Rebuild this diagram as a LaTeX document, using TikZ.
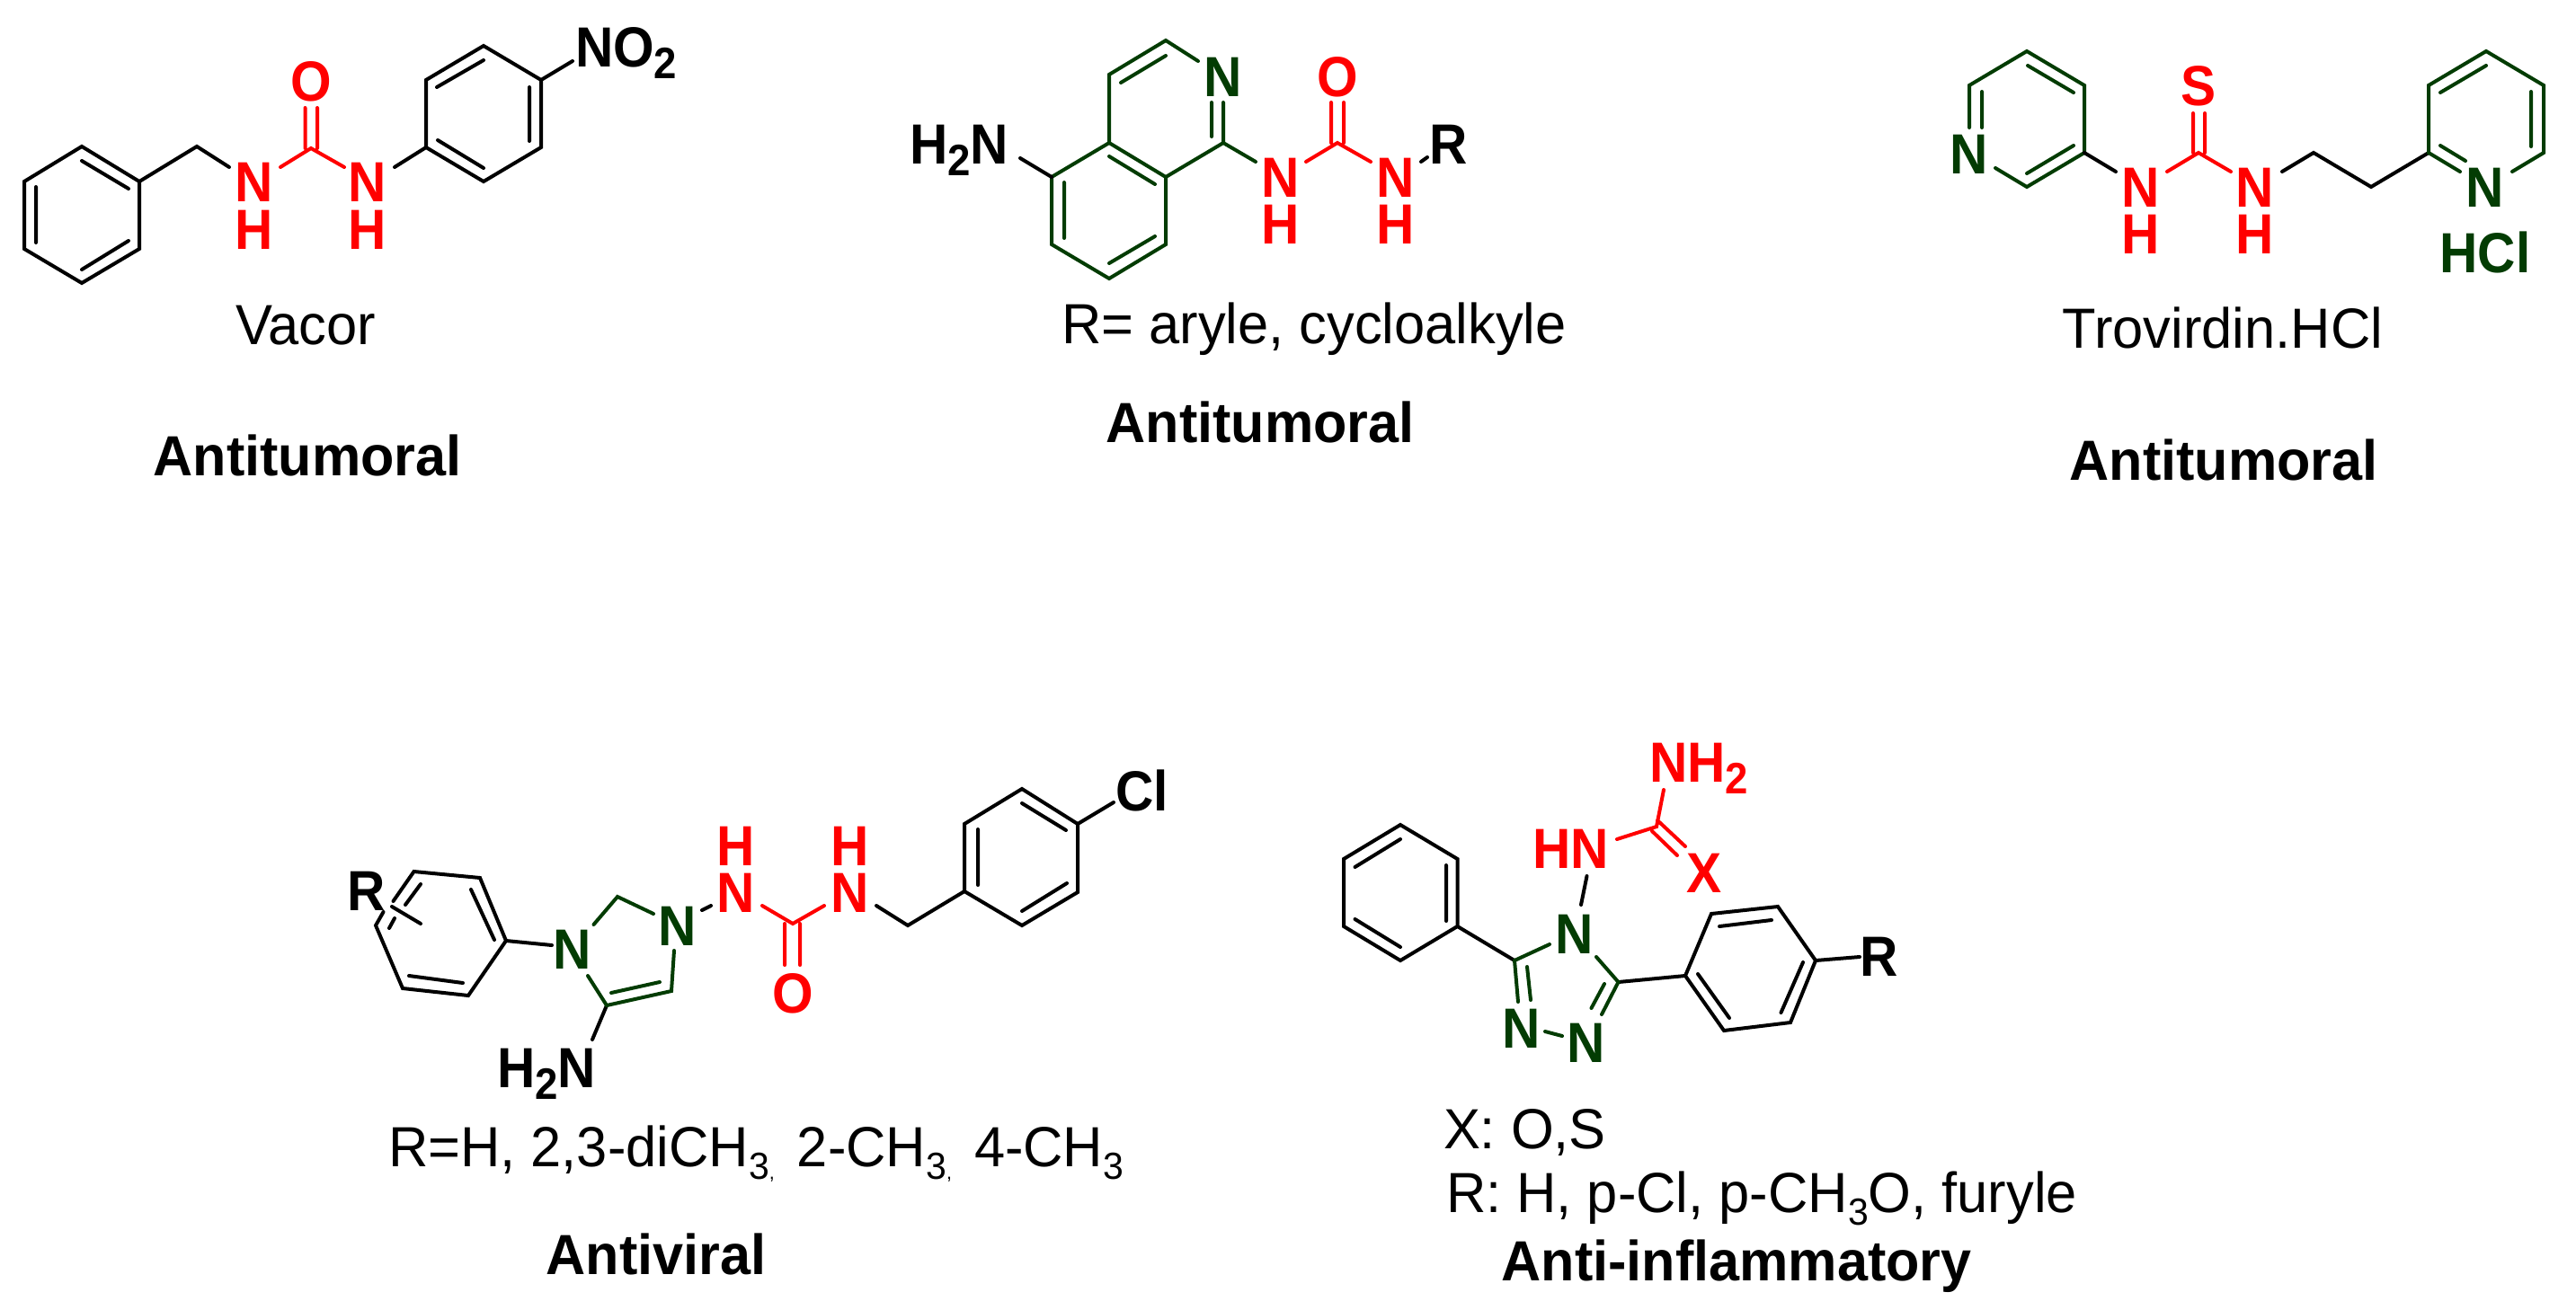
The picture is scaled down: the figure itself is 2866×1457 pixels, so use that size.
\documentclass[tikz,border=0pt]{standalone}
\usepackage{fontspec}
\setmainfont{Liberation Sans}
\newfontface\atomfont{Liberation Sans Bold}[FakeStretch=0.93]
\newfontface\labfont{Liberation Sans}[FakeStretch=0.975]
\newfontface\blabfont{Liberation Sans Bold}[FakeStretch=0.97]
\definecolor{dkgreen}{RGB}{3,60,3}
\tikzset{
  x=1pt,y=-1pt,
  bond/.style={line width=4pt,line cap=round,line join=miter,black},
  gbond/.style={bond,draw=dkgreen},
  rbond/.style={bond,draw=red},
  atom/.style={inner sep=0pt,outer sep=0pt,font=\atomfont\fontsize{63}{63}\selectfont,anchor=base},
  ratom/.style={atom,text=red},
  gatom/.style={atom,text=dkgreen},
  katom/.style={atom,text=black},
  lab/.style={inner sep=0pt,outer sep=0pt,font=\labfont\fontsize{63}{63}\selectfont,anchor=base},
  blab/.style={lab,font=\blabfont\fontsize{63}{63}\selectfont},
}
\newcommand{\pts}[1]{\foreach \n/\x/\y in {#1} {\coordinate (\n) at (\x,\y);}}
\newcommand{\bsub}[1]{\raisebox{-13pt}{\fontsize{49}{49}\selectfont #1}}
\newcommand{\rsub}[1]{\raisebox{-14pt}{\fontsize{42}{42}\selectfont #1}}
\newcommand{\rsubc}{\raisebox{-14pt}{\fontsize{42}{42}\selectfont 3\raisebox{0pt}{\fontsize{22}{22}\selectfont ,}}}
\begin{document}
\begin{tikzpicture}
\useasboundingbox (0,0) rectangle (2866,1457);
% ---------- Vacor
\pts{a1/91/163,a2/155/202,a3/155/277,a4/91/315,a5/27/277,a6/27/202,a7/219/163,a8/255/186,
a9/346/165,a10/312/186,a11/383/186,a12/439/186,b1/474/164,b2/474/89,b3/538/51,b4/602/89,b5/602/164,b6/538/202,b7/637/68}
\draw[bond] (a1)--(a2)--(a3)--(a4)--(a5)--(a6)--cycle (a2)--(a7)--(a8) (a12)--(b1) (b1)--(b2)--(b3)--(b4)--(b5)--(b6)--cycle (b4)--(b7);
\draw[bond] (40,208)--(40,270) (91,179)--(143,210) (143,268)--(91,300);
\draw[bond] (486,97)--(538,67) (589,97)--(589,157) (487,156)--(538,187);
\draw[rbond] (a10)--(a9)--(a11) (339.5,120)--(339.5,165) (353,120)--(353,165);
\node[ratom] (o1) at (346,112) {O};
\node[ratom] (n1) at (283,224) {N};
\node[ratom] (h1) at (283,277) {H};
\node[ratom] (n2) at (409,224) {N};
\node[ratom] (h2) at (409,277) {H};
\node[katom,anchor=base west] (no2) at (640,74) {NO\bsub{2}};
\node[lab] (vacor) at (340,383) {Vacor};
\node[blab] (act1) at (342,529) {Antitumoral};
% ---------- isoquinoline
\pts{c1/1297/45,c2/1234/83,c3/1234/159,c4/1297/197,c5/1361/159,c6/1333/68,c7/1170/197,c8/1170/272,c9/1234/310,c10/1297/272,
c11/1135/176,c12/1397/180,d1/1488/159,d2/1453/180,d3/1525/180,d4/1581/180,d5/1588/175,c13/1361/114,c14/1348/114,c15/1348/152}
\draw[gbond] (c6)--(c1)--(c2)--(c3)--(c4)--(c5)--(c13) (c14)--(c15) (c3)--(c7)--(c8)--(c9)--(c10)--(c4) (c5)--(c12);
\draw[gbond] (1247,92)--(1297,62) (1184,203)--(1184,265) (1234,174)--(1285,205) (1234,293)--(1285,263);
\draw[bond] (c11)--(c7) (d4)--(d5);
\draw[rbond] (d2)--(d1)--(d3) (1481,114)--(1481,159) (1495,114)--(1495,159);
\node[gatom] (n3) at (1361,107) {N};
\node[ratom] (o2) at (1488,107) {O};
\node[ratom] (n4) at (1425,219) {N};
\node[ratom] (h4) at (1425,271) {H};
\node[ratom] (n5) at (1553,219) {N};
\node[ratom] (h5) at (1553,271) {H};
\node[katom,anchor=base west] (r2) at (1590,182) {R};
\node[katom,anchor=base west] (h2n1) at (1012,182) {H\bsub{2}N};
\node[lab] (rtxt) at (1462,382) {R= aryle, cycloalkyle};
\node[blab] (act2) at (1402,492) {Antitumoral};
% ---------- Trovirdin
\pts{e1/2191/95,e2/2255/57,e3/2319/95,e4/2319/170,e5/2255/208,e6/2220/187,e7/2191/142,e8/2205/142,e9/2205/102,e10/2354/191,
f1/2446/170,f2/2411/191,f3/2482/191,f4/2539/191,f5/2574/170,f6/2638/208,f7/2702/170,
g1/2702/95,g2/2766/57,g3/2830/95,g4/2830/170,g5/2737/191,g6/2795/191}
\draw[gbond] (e7)--(e1)--(e2)--(e3)--(e4)--(e5)--(e6) (e8)--(e9);
\draw[gbond] (2256,73)--(2307,103) (2307,162)--(2255,193);
\draw[bond] (e4)--(e10) (f4)--(f5)--(f6)--(f7);
\draw[gbond] (g5)--(f7)--(g1)--(g2)--(g3)--(g4)--(g6);
\draw[gbond] (2715,103)--(2766,73) (2816,102)--(2816,163) (2715,162)--(2743,179);
\draw[rbond] (f2)--(f1)--(f3) (2440,126)--(2440,170) (2453,126)--(2453,170);
\node[gatom] (n6) at (2191,193) {N};
\node[ratom] (n7) at (2382,230) {N};
\node[ratom] (h7) at (2382,282) {H};
\node[ratom] (n8) at (2509,230) {N};
\node[ratom] (h8) at (2509,282) {H};
\node[ratom] (sulfur) at (2446,117) {S};
\node[gatom] (n9) at (2765,230) {N};
\node[gatom] (hcl) at (2765,303) {HCl};
\node[lab] (tro) at (2473,387) {Trovirdin.HCl};
\node[blab] (act3) at (2474,534) {Antitumoral};
% ---------- Antiviral
\pts{i1/460.5/970,i2/534/977,i3/563/1047,i4/521/1108,i5/448/1100,i6/418/1030,i7/436/1009,i8/468/1028,i9/614/1052,
i10/426.5/1015,i11/437.5/1003,
j1/660.5/1029,j2/687/998,j3/727/1017,j4/750/1058,j5/747/1103,j6/675/1119,j7/654/1086,j8/659/1157,j9/781/1013,j10/791/1008,
k1/882/1028,k2/848/1008,k3/917/1008,k4/975/1008,k5/1010/1030,
l1/1073/992,l2/1073/917,l3/1137/878,l4/1199/917,l5/1199/993,l6/1137/1030,l7/1239/893}
\draw[bond] (i11)--(i1)--(i2)--(i3)--(i4)--(i5)--(i6)--(i10) (i7)--(i8) (i3)--(i9) (j6)--(j8) (j9)--(j10);
\draw[bond] (524,990)--(550,1046) (455,1086)--(515,1094) (468,984)--(451,1007) (439,1022)--(433,1033);
\draw[gbond] (j1)--(j2)--(j3) (j4)--(j5)--(j6)--(j7) (734,1093)--(680,1105);
\draw[rbond] (k2)--(k1)--(k3) (873,1028)--(873,1074) (890,1028)--(890,1074);
\draw[bond] (k4)--(k5)--(l1)--(l2)--(l3)--(l4)--(l5)--(l6)--(l1) (l4)--(l7);
\draw[bond] (1088,923)--(1088,985) (1137,894)--(1186,924) (1137,1014)--(1187,983);
\node[katom,anchor=base west] (r3) at (386,1013) {R};
\node[gatom] (n10) at (637,1078) {N};
\node[gatom] (n11) at (754,1052) {N};
\node[ratom] (n12) at (819,1015) {N};
\node[ratom] (h12) at (819,963) {H};
\node[ratom] (n13) at (946,1015) {N};
\node[ratom] (h13) at (946,963) {H};
\node[ratom] (o3) at (882,1127) {O};
\node[katom,anchor=base west] (cl) at (1241,902) {Cl};
\node[katom,anchor=base west] (h2n2) at (553,1210) {H\bsub{2}N};
\node[lab,anchor=base west] (rlist) at (432,1298) {R=H, 2,3-diCH\rsubc\hspace{8pt}\ 2-CH\rsubc\hspace{8pt}\ 4-CH\rsub{3}};
\node[blab] (act4) at (730,1418) {Antiviral};
% ---------- Anti-inflammatory
\pts{p1/1558/918,p2/1621.5/956,p3/1621.5/1031,p4/1558/1069,p5/1495/1031,p6/1495/956,
q1/1685/1069,q2/1724/1051,q3/1689/1115,q4/1719/1148,q5/1738/1153,q6/1800.5/1093,q7/1776/1065,q8/1782/1129,
s1/1875/1086,s2/1904/1017,s3/1978/1009,s4/2020/1069,s5/1992/1138,s6/1918/1147,s7/2069/1065,
t1/1851/879,t2/1843/920,t3/1799/934,t4/1844/913,t5/1875/942,t6/1838/925,t7/1866/952,u1/1765.5/975,u2/1759/1007}
\draw[bond] (p1)--(p2)--(p3)--(p4)--(p5)--(p6)--cycle (p3)--(q1) (q6)--(s1) (s1)--(s2)--(s3)--(s4)--(s5)--(s6)--cycle (s4)--(s7) (u1)--(u2);
\draw[bond] (1507.5,965)--(1558,934) (1609,963)--(1609,1025) (1507.5,1023)--(1558,1054);
\draw[bond] (1913,1031)--(1971,1024) (2006,1071)--(1981.5,1127) (1889,1084)--(1924,1133);
\draw[gbond] (q2)--(q1)--(q3) (1699,1076)--(1703,1113) (q4)--(q5) (q7)--(q6)--(q8) (1785,1095)--(1770.5,1122);
\draw[rbond] (t1)--(t2)--(t3) (t4)--(t5) (t6)--(t7);
\node[ratom,anchor=base west] (nh2) at (1835,870) {NH\bsub{2}};
\node[ratom,anchor=base west] (hn) at (1705,966) {HN};
\node[ratom] (x1) at (1896,993) {X};
\node[gatom] (n14) at (1752,1061) {N};
\node[gatom] (n15) at (1693,1166) {N};
\node[gatom] (n16) at (1765,1182) {N};
\node[katom,anchor=base west] (r4) at (2069,1086) {R};
\node[lab,anchor=base west] (xtxt) at (1606,1278) {X: O,S};
\node[lab,anchor=base west] (rtxt2) at (1609,1349) {R: H, p-Cl, p-CH\rsub{3}O, furyle};
\node[blab] (act5) at (1932,1425) {Anti-inflammatory};
\end{tikzpicture}
\end{document}
